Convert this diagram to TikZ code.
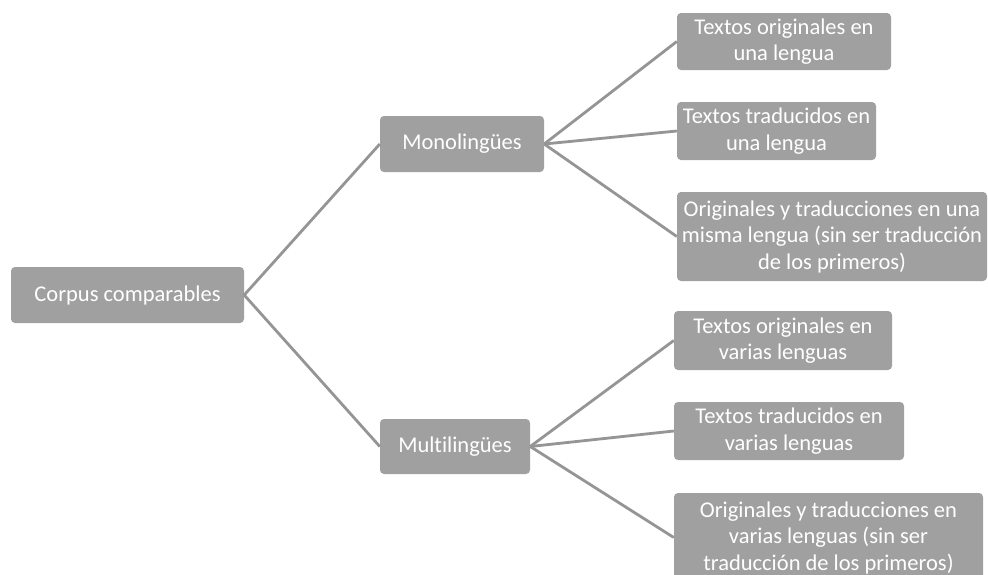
\documentclass[tikz,border=0pt]{standalone}
\usepackage{fontspec}
\setmainfont[RawFeature=-liga]{Carlito}
\definecolor{boxgray}{HTML}{A0A0A0}
\definecolor{linegray}{HTML}{959595}
\begin{document}
\begin{tikzpicture}[x=1pt,y=-1pt,
  box/.style={fill=boxgray, rounded corners=4pt, text=white, inner sep=0pt,
    align=center, font=\fontsize{22.5}{26.5}\selectfont},
  link/.style={draw=linegray, line width=2.8pt}]
\useasboundingbox[fill=white] (0,0) rectangle (988,574);
% boxes given by their corners
\newcommand{\mybox}[6]{%
  \node[box, minimum width=#4-#2, minimum height=#5-#3] (#1) at ({(#2+#4)/2},{(#3+#5)/2}) {#6};}
\mybox{root}{11}{267}{244}{323}{Corpus comparables}
\mybox{mono}{380}{116}{544}{172}{Monolingües}
\mybox{multi}{380}{419}{530}{474}{Multilingües}
\mybox{m1}{677}{13}{891}{70}{Textos originales en\\una lengua}
\mybox{m2}{677}{102}{876}{160}{Textos traducidos en\\una lengua}
\mybox{m3}{677}{192}{987}{281}{Originales y traducciones en una\\misma lengua (sin ser traducción\\de los primeros)}
\mybox{p1}{674}{311}{892}{370}{Textos originales en\\varias lenguas}
\mybox{p2}{674}{402}{904}{460}{Textos traducidos en\\varias lenguas}
\mybox{p3}{674}{493}{983}{582}{Originales y traducciones en\\varias lenguas (sin ser\\traducción de los primeros)}
% connectors
\foreach \a/\b in {root/mono, root/multi, mono/m1, mono/m2, mono/m3, multi/p1, multi/p2, multi/p3}
  \draw[link] (\a.east) -- (\b.west);
\end{tikzpicture}
\end{document}
